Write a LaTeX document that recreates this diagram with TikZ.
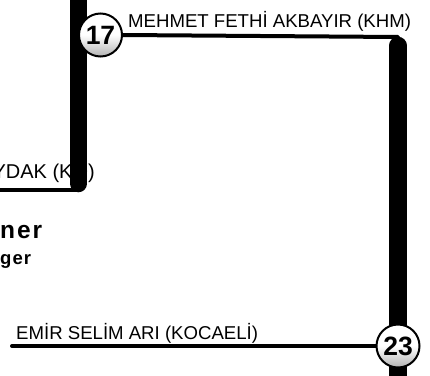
\documentclass[tikz,border=0pt]{standalone}
\usepackage{fontspec}
\setmainfont{Liberation Sans}
\usetikzlibrary{backgrounds}
\begin{document}
\begin{tikzpicture}[x=1pt,y=-1pt,
  lbl/.style={font=\fontsize{18.6}{20}\selectfont, inner sep=0pt},
  thin/.style={line width=4pt, line cap=round, line join=round},
  bar/.style={line width=17.5pt, line cap=round},
  stop/.style={circle, draw=black, line width=2pt, minimum size=43pt, inner sep=0pt,
    top color=white, bottom color=gray!60, middle color=white,
    font=\fontsize{26.5}{27}\selectfont\bfseries}]
\useasboundingbox (0,0) rectangle (430,375);
\clip (0,0) rectangle (430,375);
% stops
\node[stop] (c17) at (100.5,35) {17};
\node[stop] (c23) at (398,346) {23};
% coordinates
\coordinate (ltop) at (78.5,-20);
\coordinate (lend) at (78.5,183.5);
\coordinate (lcorner) at (78.5,190);
\coordinate (lfree) at (-20,190);
\coordinate (rcorner) at (398,37);
\coordinate (rtop) at (398,45.5);
\coordinate (rbot) at (398,400);
\coordinate (efree) at (12,346);
\begin{scope}[on background layer]
% texts
\node[lbl, anchor=base west] (t1) at (128,27) {MEHMET FETHİ AKBAYIR (KHM)};
\node[lbl, anchor=base east, font=\fontsize{20}{22}\selectfont] (t2) at (95,178) {AYDAK (KO)};
\node[lbl, anchor=base west] (t3) at (16,339) {EMİR SELİM ARI (KOCAELİ)};
\node[anchor=base west, inner sep=0pt, font=\fontsize{24.5}{26}\selectfont\bfseries\addfontfeatures{LetterSpace=8}] (t4) at (0,238) {ner};
\node[anchor=base west, inner sep=0pt, font=\fontsize{18.5}{20}\selectfont\bfseries\addfontfeatures{LetterSpace=6}] (t5) at (0,264) {ger};
% left line
\draw[thin] (lend) -- (lcorner) -- (lfree);
\draw[bar] (ltop) -- (lend);
% top line
\draw[thin] (c17.east) -- (rcorner) -- (rtop);
\draw[bar] (rtop) -- (rbot);
% bottom line
\draw[thin] (efree) -- (c23.west);
\end{scope}
\end{tikzpicture}
\end{document}
